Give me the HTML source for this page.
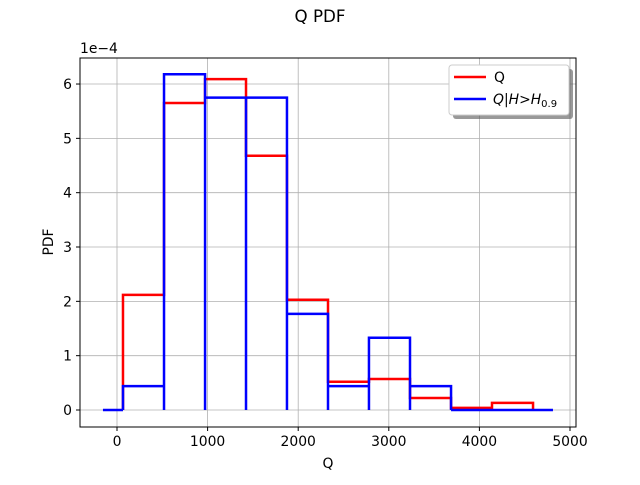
<!DOCTYPE html>
<html><head><meta charset="utf-8"><style>
body{margin:0;background:#fff;}
svg text{font-family:"DejaVu Sans","Liberation Sans",sans-serif;}
</style></head><body>
<svg width="640" height="480" xmlns="http://www.w3.org/2000/svg">
<rect width="640" height="480" fill="#fff"/>
<text x="320" y="22" font-size="16.7" text-anchor="middle">Q PDF</text>
<g id="grid"></g>
<g id="series"></g>
<rect x="80" y="58" width="496" height="369" fill="none" stroke="#000" stroke-width="1"/>
<g id="ticks"></g>
<text x="80" y="53" font-size="13.9">1e−4</text>
<text x="328" y="468" font-size="13.9" text-anchor="middle">Q</text>
<text x="0" y="0" font-size="13.9" text-anchor="middle" transform="translate(53,242) rotate(-90)">PDF</text>
<g>
<rect x="453" y="69" width="120" height="50" rx="3" fill="#555" opacity="0.6"/>
<rect x="449" y="65" width="120" height="50" rx="3" fill="#fff" stroke="#ccc"/>
<line x1="454" y1="77" x2="486" y2="77" stroke="red" stroke-width="2.5"/>
<text x="494" y="82" font-size="13.9">Q</text>
<line x1="454" y1="99" x2="486" y2="99" stroke="blue" stroke-width="2.5"/>
<text x="493" y="104" font-size="13.9"><tspan font-style="italic">Q</tspan>|<tspan font-style="italic">H</tspan>&gt;<tspan font-style="italic">H</tspan><tspan font-size="10" dy="3">0.9</tspan></text>
</g>
</svg>
<script>
const edges=[66,519,972,1424,1876,2329,2781,3234,3687,4139,4592];
const redVals=[2.12,5.65,6.09,4.68,2.03,0.52,0.57,0.22,0.04,0.13];
const blueVals=[0.44,6.18,5.75,5.75,1.77,0.44,1.33,0.44,0,0];
const padLeft=-155, padRight=4812;
const xTicks=[0,1000,2000,3000,4000,5000];
const yTicks=[0,1,2,3,4,5,6];
const NS="http://www.w3.org/2000/svg";
const X=v=>117+(v)*0.0906;
const Y=v=>410-v*54.33;
const grid=document.getElementById('grid'),ticks=document.getElementById('ticks'),series=document.getElementById('series');
function mk(tag,attrs,parent){const e=document.createElementNS(NS,tag);for(const k in attrs)e.setAttribute(k,attrs[k]);parent.appendChild(e);return e;}
xTicks.forEach(t=>{
 const g=mk('line',{x1:X(t),x2:X(t),y1:58,y2:427,stroke:'#b0b0b0','stroke-width':0.8},grid);
 
 
 mk('line',{x1:X(t),x2:X(t),y1:427,y2:431,stroke:'#000'},ticks);
 const tx=mk('text',{x:X(t),y:446,'font-size':13.9,'text-anchor':'middle'},ticks);
 tx.textContent=t;
 
 
});
yTicks.forEach(t=>{
 const g=mk('line',{x1:80,x2:576,y1:Y(t),y2:Y(t),stroke:'#b0b0b0','stroke-width':0.8},grid);
 
 
 mk('line',{x1:76,x2:80,y1:Y(t),y2:Y(t),stroke:'#000'},ticks);
 const tx=mk('text',{x:72,y:Y(t)+5,'font-size':13.9,'text-anchor':'end'},ticks);
 tx.textContent=t;
 
 
});
let d=`M${X(edges[0])},${Y(0)}`;
redVals.forEach((v,i)=>{d+=` L${X(edges[i])},${Y(v)} L${X(edges[i+1])},${Y(v)}`;});
d+=` L${X(edges[edges.length-1])},${Y(0)}`;
const rp=mk('path',{d:d,fill:'none',stroke:'red','stroke-width':2.5},series);


let b=`M${X(padLeft)},${Y(0)} L${X(edges[0])},${Y(0)}`;
blueVals.forEach((v,i)=>{b+=` M${X(edges[i])},${Y(0)} L${X(edges[i])},${Y(v)} L${X(edges[i+1])},${Y(v)} L${X(edges[i+1])},${Y(0)}`;});
b+=` L${X(padRight)},${Y(0)}`;
const bp=mk('path',{d:b,fill:'none',stroke:'blue','stroke-width':2.5},series);


</script>
</body></html>
